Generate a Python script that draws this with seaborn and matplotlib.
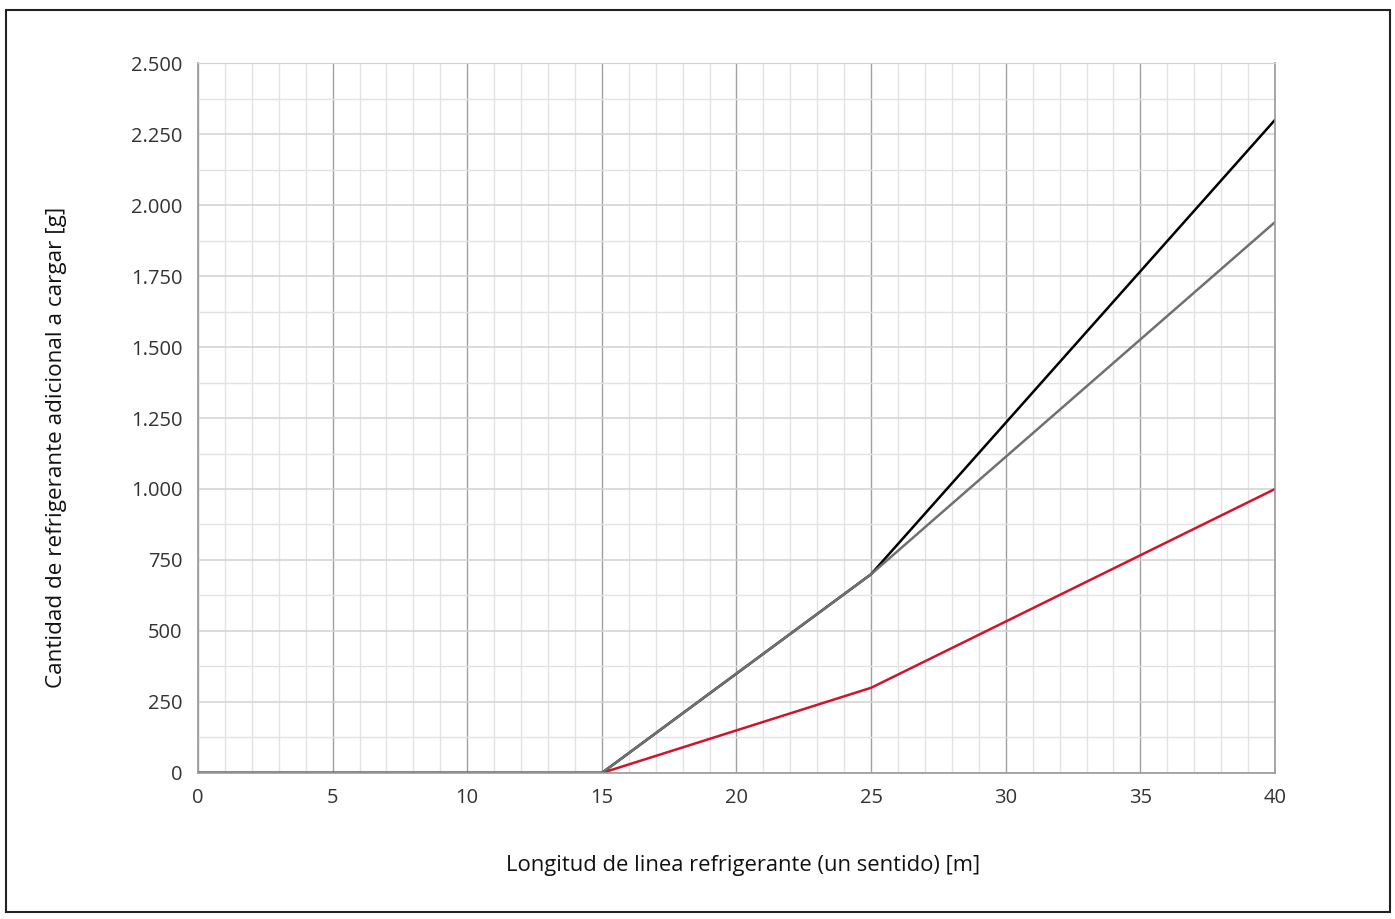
import pandas as pd
import matplotlib
matplotlib.use("Agg")
import matplotlib.pyplot as plt
import seaborn as sns
from matplotlib.ticker import MultipleLocator, FuncFormatter
from matplotlib.patches import Rectangle

# data
length_m = [0, 15, 25, 40]
charge_red = [0, 0, 300, 1000]
charge_black = [0, 0, 700, 2300]
charge_gray = [0, 0, 700, 1940]
series_names = ["rojo", "negro", "gris"]
series_colors = ["#d2132d", "#000000", "#707070"]

df = pd.concat([
    pd.DataFrame({"x": length_m, "y": charge_red, "serie": "rojo"}),
    pd.DataFrame({"x": length_m, "y": charge_black, "serie": "negro"}),
    pd.DataFrame({"x": length_m, "y": charge_gray, "serie": "gris"}),
])

sns.set_style("white")
plt.rcParams["font.family"] = ["Open Sans", "DejaVu Sans"]

fig = plt.figure(figsize=(13.95, 9.19), dpi=100)
ax = fig.add_axes([0.1419, 0.1589, 0.9140 - 0.1419, 0.9314 - 0.1589])

sns.lineplot(data=df, x="x", y="y", hue="serie", hue_order=series_names,
             palette=series_colors, linewidth=1.8, legend=False, ax=ax,
             sort=False)

ax.set_xlim(0, 40)
ax.set_ylim(0, 2500)
ax.xaxis.set_major_locator(MultipleLocator(5))
ax.xaxis.set_minor_locator(MultipleLocator(1))
ax.yaxis.set_major_locator(MultipleLocator(250))
ax.yaxis.set_minor_locator(MultipleLocator(125))
ax.yaxis.set_major_formatter(FuncFormatter(lambda v, p: f"{int(v):,}".replace(",", ".")))

ax.grid(which="minor", axis="both", color="#e3e3e3", linewidth=1.0)
ax.grid(which="major", axis="y", color="#d2d2d2", linewidth=1.1)
ax.grid(which="major", axis="x", color="#a0a0a0", linewidth=1.0)
ax.set_axisbelow(True)

ax.tick_params(which="major", length=7, width=1, color="#999999",
               labelsize=14.5, labelcolor="#333333", pad=4)
ax.tick_params(which="minor", length=0)

for side in ["left", "right", "bottom"]:
    ax.spines[side].set_color("#999999")
    ax.spines[side].set_linewidth(1.2)
ax.spines["top"].set_color("#d2d2d2")

ax.set_xlabel("Longitud de linea refrigerante (un sentido) [m]", fontsize=15.8,
              color="#111111")
ax.set_ylabel("Cantidad de refrigerante adicional a cargar [g]", fontsize=16.2,
              color="#111111")
ax.xaxis.set_label_coords(0.5065, -0.115)
ax.yaxis.set_label_coords(-0.1216, 0.4585)

fig.patches.append(Rectangle((6 / 1395, 1 - 912 / 919), 1384 / 1395, 902 / 919,
                             transform=fig.transFigure, fill=False,
                             edgecolor="#222222", linewidth=1.5))

fig.savefig("out.png", dpi=100)
